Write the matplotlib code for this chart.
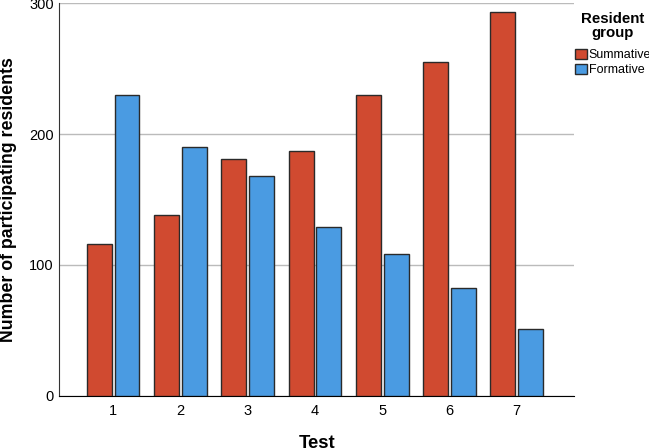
import numpy as np
import matplotlib.pyplot as plt

plt.rcParams['font.family'] = ['Liberation Sans', 'DejaVu Sans']

# data
tests = ['1', '2', '3', '4', '5', '6', '7']
summative = [116, 138, 181, 187, 230, 255, 293]
formative = [230, 190, 168, 129, 108, 82, 51]

red = '#D04A30'
blue = '#4A9BE2'

fig = plt.figure(figsize=(6.49, 4.48), dpi=100)
ax = fig.add_axes([0.0914, 0.1167, 0.793, 0.876])

x = np.arange(1, len(tests) + 1)
w = 0.37
ax.bar(x - 0.206, summative, w, color=red, edgecolor='#2a2a2a', linewidth=1.0,
       label='Summative', zorder=3)
ax.bar(x + 0.206, formative, w, color=blue, edgecolor='#2a2a2a', linewidth=1.0,
       label='Formative', zorder=3)

ax.set_xlim(0.2, 7.85)
ax.set_ylim(0, 300)
ax.set_yticks([0, 100, 200, 300])
ax.set_xticks(x)
ax.set_xticklabels(tests)
ax.tick_params(length=0, labelsize=10.5)
ax.tick_params(axis='y', pad=4)
ax.tick_params(axis='x', pad=6)
ax.yaxis.grid(True, color='#bbbbbb', linewidth=1.0, zorder=0)

for s in ['top', 'right']:
    ax.spines[s].set_visible(False)
ax.spines['left'].set_color('#333333')
ax.spines['bottom'].set_color('black')

ax.set_xlabel('Test', fontsize=13.3, fontweight='bold')
ax.xaxis.set_label_coords(0.5, -0.1)
ax.set_ylabel('Number of participating residents', fontsize=12.8,
              fontweight='bold')
ax.yaxis.set_label_coords(-0.082, 0.5)

# legend title drawn separately so its spacing can match
fig.text(0.9438, 0.974, 'Resident\ngroup', ha='center', va='top',
         fontsize=10.8, fontweight='bold', linespacing=1.0)
leg = fig.legend(loc='upper left', bbox_to_anchor=(0.886, 0.891),
                 frameon=False, fontsize=9,
                 handlelength=0.95, handleheight=0.85, handletextpad=0.15,
                 labelspacing=0.2, borderaxespad=0, borderpad=0)
for p in leg.get_patches():
    p.set_edgecolor('#2a2a2a')

fig.savefig('out.png', dpi=100, facecolor='white')
